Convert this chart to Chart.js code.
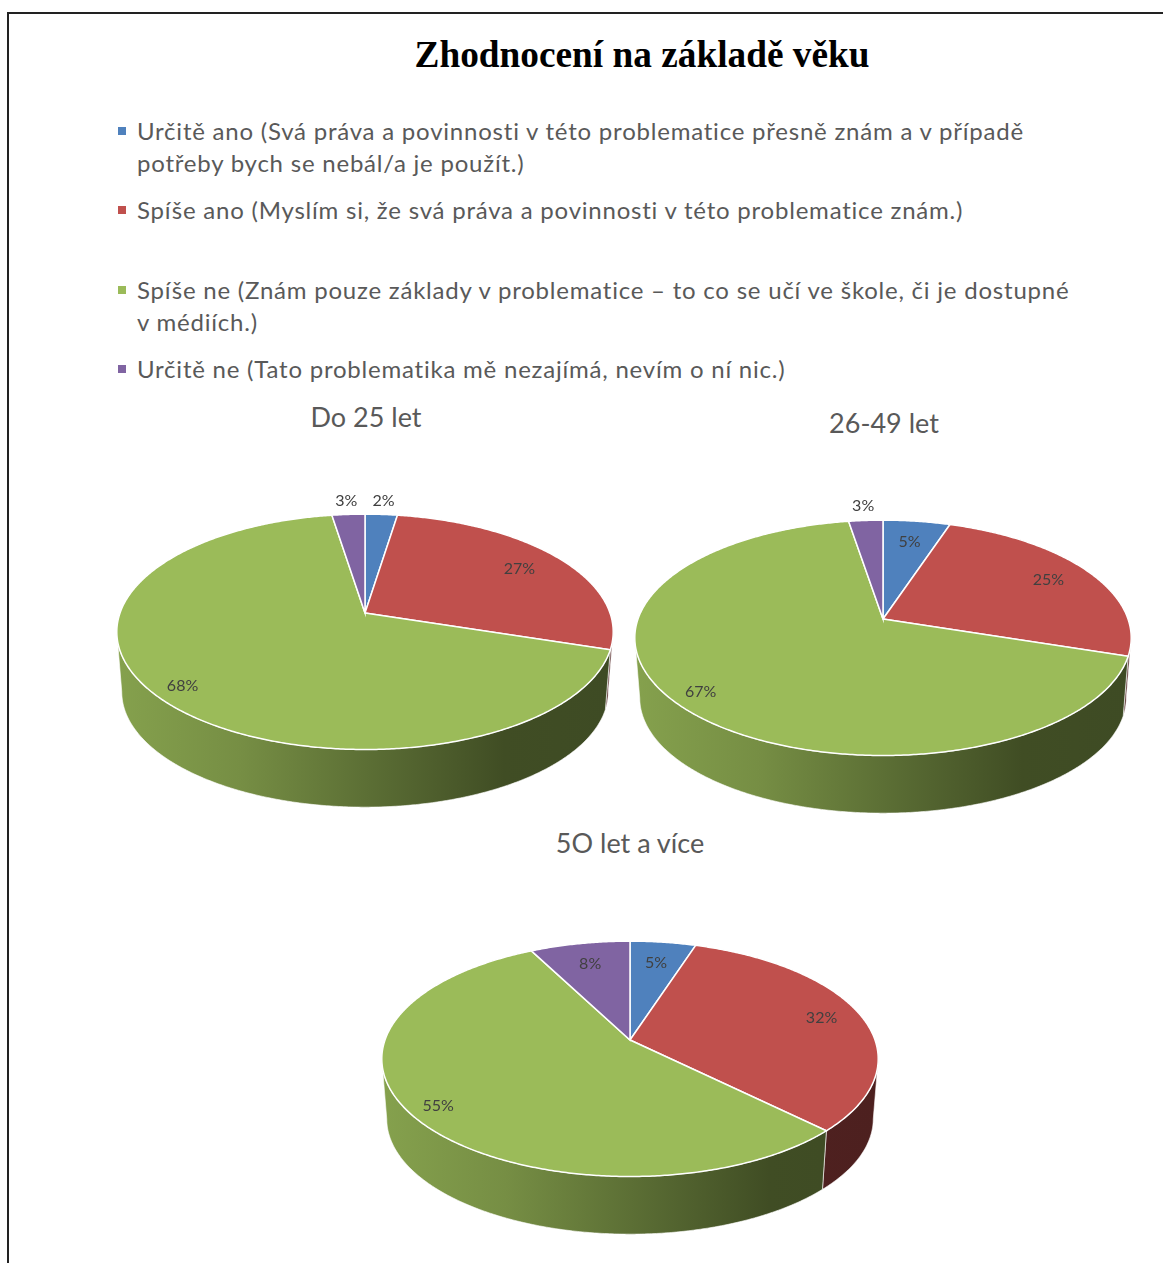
<!DOCTYPE html>
<html lang="cs">
<head>
<meta charset="utf-8">
<title>Zhodnocení na základě věku</title>
<script src="https://cdn.jsdelivr.net/npm/chart.js@4/dist/chart.umd.js"></script>
<style>
    html, body { margin: 0; padding: 0; background: #fff; }
    body { position: relative; width: 1163px; height: 1263px; overflow: hidden; font-family: Lato, sans-serif; color: #595959; }
    #frame { position: absolute; left: 7px; top: 12px; width: 1170px; height: 1270px; border: 2px solid #222; }
    #mainTitle { position: absolute; left: 342px; width: 600px; top: 33px; text-align: center; font: bold 37.3px "Liberation Serif", serif; color: #000; white-space: nowrap; }
    .legendItem { position: absolute; left: 137px; width: 935px; font-size: 24px; line-height: 32px; letter-spacing: 0.78px; }
    .legendItem i { position: absolute; left: -19px; top: 12px; width: 8px; height: 8px; }
    .pieTitle { position: absolute; width: 400px; text-align: center; font-size: 27px; line-height: 32px; white-space: nowrap; }
    canvas { position: absolute; }
</style>
</head>
<body>
<div id="frame"></div>
<div id="mainTitle">Zhodnocení na základě věku</div>
<div id="legend"></div>
<div id="titles"></div>
<canvas id="pieYoung" width="520" height="330" style="left:105px;top:483px"></canvas>
<canvas id="pieMiddle" width="520" height="330" style="left:623px;top:489px"></canvas>
<canvas id="pieOld" width="520" height="330" style="left:370px;top:910px"></canvas>
<script>
// Data
const categories = [
    'Určitě ano (Svá práva a povinnosti v této problematice přesně znám a v případě potřeby bych se nebál/a je použít.)',
    'Spíše ano (Myslím si, že svá práva a povinnosti v této problematice znám.)',
    'Spíše ne (Znám pouze základy v problematice – to co se učí ve škole, či je dostupné v médiích.)',
    'Určitě ne (Tato problematika mě nezajímá, nevím o ní nic.)'
];
const colors = ['#4F81BD', '#C0504D', '#9BBB59', '#8064A2'];
const legendTops = [115, 194, 274, 353];

const pieTitles = ['Do 25 let', '26-49 let', '5O let a více'];
const young = [2.45, 27.49, 67.56, 2.5];
const middle = [5.1, 24.9, 67.4, 2.6];
const old = [5, 32.4, 55, 7.6];

// how far from the pie centre each % label sits (1 = rim)
const youngLabelPos = [1.16, 0.79, 0.89, 1.16];
const middleLabelPos = [0.76, 0.80, 0.89, 1.18];
const oldLabelPos = [0.76, 0.83, 0.89, 0.77];

// Perspective of the 3D pie
const RADIUS = 245;
const TILT = 0.468;
const PERSP = 0.16;
const DEPTH_Y = 60;      // lower rim centre, below upper rim centre
const LOWER_SCALE = 0.98;
const A = RADIUS / Math.sqrt(1 - PERSP * PERSP);
const B = RADIUS * TILT / (1 - PERSP * PERSP);
const YC = RADIUS * TILT * PERSP / (1 - PERSP * PERSP);

function project(cx, cy, angle, frac) {
    // angle is chart.js angle (0 = 3 o'clock, clockwise)
    const x = frac * Math.cos(angle);
    const y = frac * Math.sin(angle);
    const d = 1 - PERSP * y;
    return { x: cx + RADIUS * x / d, y: cy + RADIUS * TILT * y / d };
}

function sidePath(ctx, arc) {
    const step = Math.PI / 360;
    const top = [], bottom = [];
    for (let a = arc.startAngle; a < arc.endAngle + step; a += step) {
        const p = project(arc.x, arc.y, Math.min(a, arc.endAngle), 1);
        const t = Math.atan2((p.y - arc.y - YC) / B, (p.x - arc.x) / A);
        if (Math.sin(t) < 0) continue;
        top.push(p);
        bottom.push({
            x: arc.x + A * LOWER_SCALE * Math.cos(t),
            y: arc.y + YC + DEPTH_Y + B * LOWER_SCALE * Math.sin(t)
        });
    }
    if (top.length < 2) return false;
    ctx.beginPath();
    top.forEach((p, i) => i ? ctx.lineTo(p.x, p.y) : ctx.moveTo(p.x, p.y));
    bottom.reverse().forEach(p => ctx.lineTo(p.x, p.y));
    ctx.closePath();
    return true;
}

function shade(hex, factor) {
    const n = parseInt(hex.slice(1), 16);
    const r = Math.round((n >> 16) * factor);
    const g = Math.round(((n >> 8) & 255) * factor);
    const b = Math.round((n & 255) * factor);
    return `rgb(${r},${g},${b})`;
}

// Replaces the flat arcs with the tilted pie, using the angles chart.js computed
const tiltedPie = {
    id: 'tiltedPie',
    beforeDatasetsDraw(chart) {
        const ctx = chart.ctx;
        const arcs = chart.getDatasetMeta(0).data;

        // side walls
        arcs.forEach(arc => {
            if (!sidePath(ctx, arc)) return;
            const base = arc.options.backgroundColor;
            const grad = ctx.createLinearGradient(arc.x - A, 0, arc.x + A, 0);
            grad.addColorStop(0, shade(base, 0.86));
            grad.addColorStop(0.25, shade(base, 0.76));
            grad.addColorStop(0.55, shade(base, 0.56));
            grad.addColorStop(0.78, shade(base, 0.41));
            grad.addColorStop(1, shade(base, 0.40));
            ctx.fillStyle = grad;
            ctx.fill();
            ctx.strokeStyle = 'rgba(255,255,255,0.6)';
            ctx.lineWidth = 1;
            ctx.stroke();
        });

        // top slices
        arcs.forEach(arc => {
            ctx.beginPath();
            ctx.moveTo(arc.x, arc.y);
            const step = Math.PI / 360;
            for (let a = arc.startAngle; a < arc.endAngle + step; a += step) {
                const p = project(arc.x, arc.y, Math.min(a, arc.endAngle), 1);
                ctx.lineTo(p.x, p.y);
            }
            ctx.closePath();
            ctx.fillStyle = arc.options.backgroundColor;
            ctx.fill();
            ctx.strokeStyle = arc.options.borderColor;
            ctx.lineWidth = arc.options.borderWidth;
            ctx.stroke();
        });
        return false;
    },
    afterDraw(chart, args, opts) {
        const ctx = chart.ctx;
        const values = chart.data.datasets[0].data;
        ctx.font = '16px Lato, sans-serif';
        ctx.fillStyle = '#404040';
        ctx.textAlign = 'center';
        ctx.textBaseline = 'middle';
        chart.getDatasetMeta(0).data.forEach((arc, i) => {
            const mid = (arc.startAngle + arc.endAngle) / 2;
            const p = project(arc.x, arc.y, mid, opts.labelPos[i]);
            ctx.fillText(Math.round(values[i]) + '%', p.x, p.y);
        });
    }
};

function makePie(id, values, labelPos) {
    return new Chart(document.getElementById(id), {
        type: 'pie',
        data: {
            labels: categories,
            datasets: [{
                data: values,
                backgroundColor: colors,
                borderColor: '#fff',
                borderWidth: 1.5,
                radius: RADIUS
            }]
        },
        plugins: [tiltedPie],
        options: {
            responsive: false,
            animation: false,
            devicePixelRatio: 1,
            layout: { padding: { bottom: 70 } },
            plugins: {
                legend: { display: false },
                tooltip: { enabled: false },
                tiltedPie: { labelPos: labelPos }
            }
        }
    });
}

// Legend and pie titles
categories.forEach((text, i) => {
    const item = document.createElement('div');
    item.className = 'legendItem';
    item.style.top = legendTops[i] + 'px';
    item.innerHTML = `<i style="background:${colors[i]}"></i>`;
    item.appendChild(document.createTextNode(text));
    document.getElementById('legend').appendChild(item);
});

[[366, 401], [884, 407], [630, 827]].forEach((pos, i) => {
    const el = document.createElement('div');
    el.className = 'pieTitle';
    el.style.left = (pos[0] - 200) + 'px';
    el.style.top = pos[1] + 'px';
    el.textContent = pieTitles[i];
    document.getElementById('titles').appendChild(el);
});

makePie('pieYoung', young, youngLabelPos);
makePie('pieMiddle', middle, middleLabelPos);
makePie('pieOld', old, oldLabelPos);
</script>
</body>
</html>
